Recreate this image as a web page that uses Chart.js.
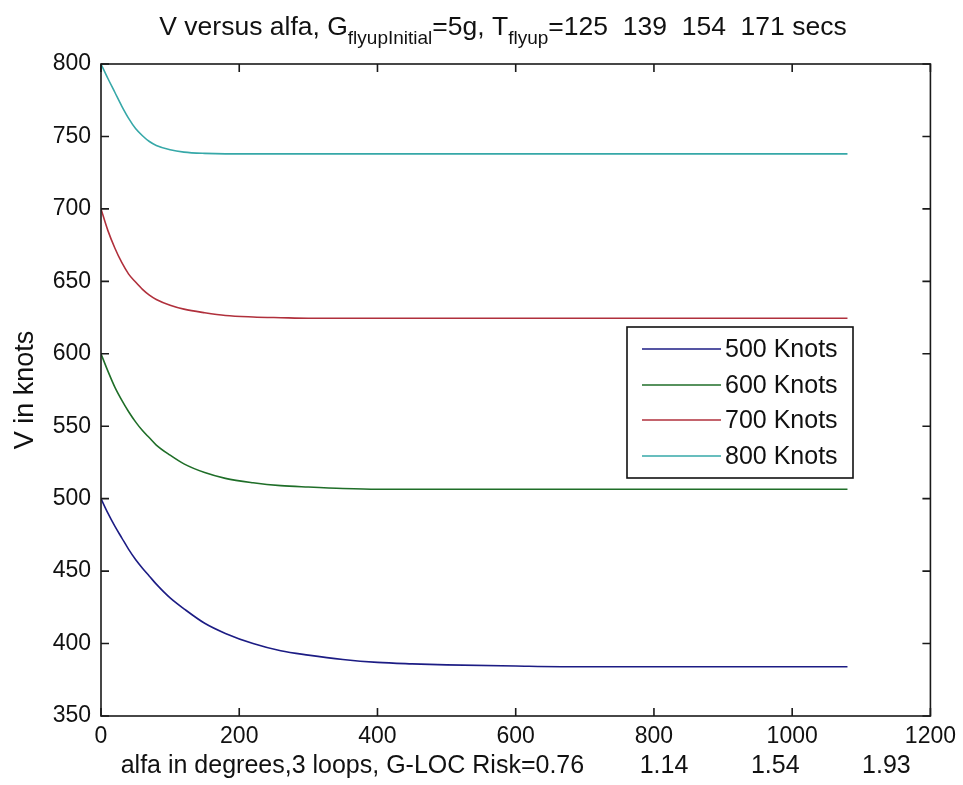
<!DOCTYPE html>
<html>
<head>
<meta charset="utf-8">
<script src="https://cdn.jsdelivr.net/npm/chart.js@4"></script>
<style>
	html, body { margin: 0; padding: 0; background: #fff; }
	#wrap { width: 963px; height: 785px; }
</style>
</head>
<body>
<div id="wrap"><canvas id="lineChart" width="963" height="785"></canvas></div>
<script>
const alfa = [0, 10, 20, 30, 40, 50, 60, 70, 80, 100, 120, 150, 180, 220, 260, 300, 350, 400, 450, 500, 600, 700, 800, 900, 1000, 1080];

const v500 = [500, 490, 481, 473, 465, 458, 452, 446.5, 441, 431.5, 424, 414, 407, 400, 395, 392, 389, 387, 386, 385.3, 384.5, 384, 384, 384, 384, 384];
const v600 = [600, 588, 577, 568, 560, 553, 547, 542, 537, 530, 524, 518, 514, 511, 509, 508, 507, 506.5, 506.5, 506.5, 506.5, 506.5, 506.5, 506.5, 506.5, 506.5];
const v700 = [700, 685, 673, 663, 655, 649.5, 644.5, 640.5, 637.5, 633.5, 630.8, 628.3, 626.4, 625.4, 624.9, 624.5, 624.5, 624.5, 624.5, 624.5, 624.5, 624.5, 624.5, 624.5, 624.5, 624.5];
const v800 = [800, 790, 780.5, 771, 762.5, 755.5, 750.5, 746.5, 743.8, 740.8, 739.2, 738.3, 738, 738, 738, 738, 738, 738, 738, 738, 738, 738, 738, 738, 738, 738];

const seriesNames = ['500 Knots', '600 Knots', '700 Knots', '800 Knots'];
const seriesColors = ['#1c1c84', '#1f6e28', '#b0303c', '#36a8a8'];

const xTitle = 'alfa in degrees,3 loops, G-LOC Risk=0.76        1.14         1.54         1.93';
const yTitle = 'V in knots';

const font = "'Liberation Sans', Arial, sans-serif";

function points(ys)
{
	return alfa.map((a, i) => ({ x: a, y: ys[i] }));
}

// title with subscripts, drawn above the axes
const titlePlugin = {
	id: 'matlabTitle',
	afterDraw(chart) {
		const c = chart.ctx;
		const parts = [
			['V versus alfa, G', false],
			['flyupInitial', true],
			['=5g, T', false],
			['flyup', true],
			['=125  139  154  171 secs', false]
		];
		const big = '26.5px ' + font;
		const small = '19px ' + font;
		c.save();
		c.fillStyle = '#111';
		c.textBaseline = 'alphabetic';
		let total = 0;
		for (const p of parts) {
			c.font = p[1] ? small : big;
			total += c.measureText(p[0]).width;
		}
		let x = 503 - total / 2;
		for (const p of parts) {
			c.font = p[1] ? small : big;
			c.fillText(p[0], x, p[1] ? 44 : 35);
			x += c.measureText(p[0]).width;
		}
		c.restore();
	}
};

// MATLAB style box, inward ticks and legend
const boxPlugin = {
	id: 'matlabBox',
	afterDraw(chart) {
		const c = chart.ctx;
		const a = chart.chartArea;
		const xs = chart.scales.x;
		const ys = chart.scales.y;
		const tick = 8;
		c.save();
		c.strokeStyle = '#1a1a1a';
		c.lineWidth = 1.6;
		c.strokeRect(a.left, a.top, a.right - a.left, a.bottom - a.top);
		c.beginPath();
		xs.ticks.forEach(t => {
			const px = xs.getPixelForValue(t.value);
			c.moveTo(px, a.bottom); c.lineTo(px, a.bottom - tick);
			c.moveTo(px, a.top); c.lineTo(px, a.top + tick);
		});
		ys.ticks.forEach(t => {
			const py = ys.getPixelForValue(t.value);
			c.moveTo(a.left, py); c.lineTo(a.left + tick, py);
			c.moveTo(a.right, py); c.lineTo(a.right - tick, py);
		});
		c.stroke();

		// legend
		const lx = 627, ly = 327, lw = 226, lh = 151;
		c.fillStyle = '#fff';
		c.fillRect(lx, ly, lw, lh);
		c.strokeStyle = '#111';
		c.lineWidth = 1.6;
		c.strokeRect(lx, ly, lw, lh);
		const rows = [349, 385, 420, 456];
		c.font = '25px ' + font;
		c.textBaseline = 'middle';
		chart.data.datasets.forEach((ds, i) => {
			c.strokeStyle = ds.borderColor;
			c.lineWidth = 1.6;
			c.beginPath();
			c.moveTo(642, rows[i]);
			c.lineTo(721, rows[i]);
			c.stroke();
			c.fillStyle = '#111';
			c.fillText(ds.label, 725, rows[i] + 1);
		});
		c.restore();
	}
};

const ctx = document.getElementById('lineChart').getContext('2d');

const chart = new Chart(ctx, {
	type: 'line',
	data: {
		datasets: [v500, v600, v700, v800].map((vals, i) => ({
			label: seriesNames[i],
			data: points(vals),
			borderColor: seriesColors[i],
			borderWidth: 1.6,
			pointRadius: 0,
			cubicInterpolationMode: 'monotone',
			fill: false
		}))
	},
	options: {
		responsive: false,
		animation: false,
		layout: { padding: { top: 64, right: 32, left: 0, bottom: 0 } },
		plugins: {
			legend: { display: false },
			title: { display: false },
			tooltip: { enabled: false }
		},
		scales: {
			x: {
				type: 'linear',
				min: 0,
				max: 1200,
				grid: { display: false, drawTicks: false },
				border: { display: false },
				ticks: {
					stepSize: 200,
					padding: 7,
					maxRotation: 0,
					color: '#111',
					font: { family: font, size: 23 },
					callback: v => String(v)
				},
				title: {
					display: true,
					text: xTitle,
					color: '#111',
					padding: { top: 0, bottom: 4 },
					font: { family: font, size: 25 }
				},
				afterFit(scale) { scale.height = 69; }
			},
			y: {
				min: 350,
				max: 800,
				grid: { display: false, drawTicks: false },
				border: { display: false },
				ticks: {
					stepSize: 50,
					padding: 10,
					color: '#111',
					font: { family: font, size: 23 },
					callback: v => String(v)
				},
				title: {
					display: true,
					text: yTitle,
					color: '#111',
					padding: { top: 9, bottom: 0 },
					font: { family: font, size: 27 }
				},
				afterFit(scale) { scale.width = 101; }
			}
		}
	},
	plugins: [titlePlugin, boxPlugin]
});
</script>
</body>
</html>
